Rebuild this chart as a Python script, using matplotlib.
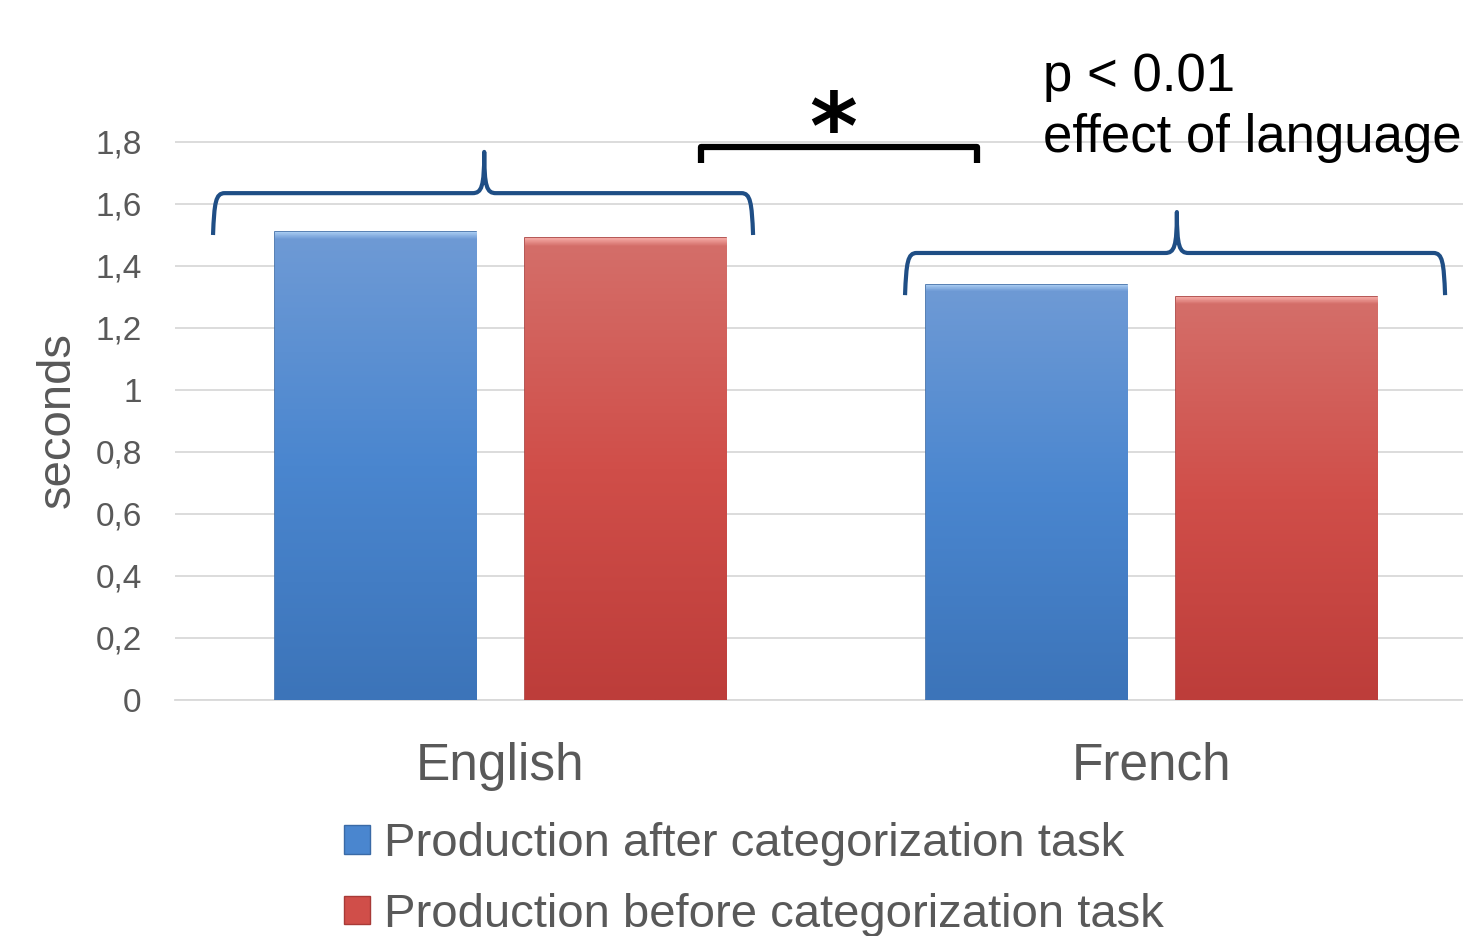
import numpy as np
import matplotlib
matplotlib.use('Agg')
import matplotlib.pyplot as plt
from matplotlib.path import Path
from matplotlib.patches import PathPatch, Patch
from matplotlib.colors import LinearSegmentedColormap

plt.rcParams['font.family'] = ['Liberation Sans', 'DejaVu Sans']

# data
languages = ['English', 'French']
series_names = ['Production after categorization task', 'Production before categorization task']
after_task = [1.51, 1.34]
before_task = [1.49, 1.30]
y_ticks = [0, 0.2, 0.4, 0.6, 0.8, 1.0, 1.2, 1.4, 1.6, 1.8]
y_tick_labels = ['0', '0,2', '0,4', '0,6', '0,8', '1', '1,2', '1,4', '1,6', '1,8']

grey = '#595959'
blue_cols = ['#A9CCF2', '#6E9AD5', '#4A86CF', '#3C74B9']
red_cols = ['#F2A5A0', '#D46E69', '#D04E49', '#BD3D3A']
blue_edge = '#3A6AA6'
red_edge = '#A83A37'

fig = plt.figure(figsize=(14.63, 9.36), dpi=100)
W, H = 1463, 936
x_left, x_right = 175, 1477
y_zero, y_top = 700, 80
ax = fig.add_axes([x_left / W, 1 - y_zero / H, (x_right - x_left) / W, (y_zero - y_top) / H])

x = np.arange(len(languages))
width = 0.31
off = 0.192
b1 = ax.bar(x - off, after_task, width, color=blue_cols[1], edgecolor=blue_edge, linewidth=1.2, zorder=3)
b2 = ax.bar(x + off, before_task, width, color=red_cols[1], edgecolor=red_edge, linewidth=1.2, zorder=3)


def shade(bars, cols):
    cmap = LinearSegmentedColormap.from_list('g', [(0, cols[3]), (0.5, cols[2]), (0.985, cols[1]), (1.0, cols[0])])
    grad = np.linspace(0, 1, 256).reshape(-1, 1)
    for b in bars:
        bx, by, bw, bh = b.get_x(), b.get_y(), b.get_width(), b.get_height()
        im = ax.imshow(grad, cmap=cmap, extent=[bx, bx + bw, by, by + bh], origin='lower',
                       aspect='auto', zorder=3.5)
        im.set_clip_path(b)


shade(b1, blue_cols)
shade(b2, red_cols)

ax.set_xlim(-0.5, 1.5)
ax.set_ylim(0, 2.0)
ax.set_yticks(y_ticks)
ax.set_yticklabels(y_tick_labels)
ax.set_xticks(x)
ax.set_xticklabels(languages)
ax.tick_params(axis='y', length=0, pad=24, labelsize=24, labelcolor=grey)
ax.tick_params(axis='x', length=0, pad=30, labelsize=37, labelcolor=grey)
ax.grid(axis='y', color='#D9D9D9', linewidth=1.3, zorder=0)
ax.set_axisbelow(True)
for s in ['top', 'right', 'left']:
    ax.spines[s].set_visible(False)
ax.spines['bottom'].set_color('#D9D9D9')
ax.spines['bottom'].set_linewidth(1.3)

fig.text(58 / W, 1 - 420 / H, 'seconds', rotation=90, ha='center', va='center', fontsize=34, color=grey)


def brace(x0, x1, xc, yh, yend, ypeak, color, lw):
    rx = 0.018
    ry = 0.03
    verts = [(x0, yend),
             (x0 + 0.002, yh - ry), (x0 + 0.004, yh), (x0 + rx, yh),
             (xc - rx, yh),
             (xc - 0.004, yh), (xc, yh + 0.02), (xc, ypeak),
             (xc, yh + 0.02), (xc + 0.004, yh), (xc + rx, yh),
             (x1 - rx, yh),
             (x1 - 0.004, yh), (x1 - 0.002, yh - ry), (x1, yend)]
    codes = [Path.MOVETO,
             Path.CURVE4, Path.CURVE4, Path.CURVE4,
             Path.LINETO,
             Path.CURVE4, Path.CURVE4, Path.CURVE4,
             Path.CURVE4, Path.CURVE4, Path.CURVE4,
             Path.LINETO,
             Path.CURVE4, Path.CURVE4, Path.CURVE4]
    ax.add_patch(PathPatch(Path(verts, codes), facecolor='none', edgecolor=color, lw=lw,
                           clip_on=False, zorder=5, capstyle='butt', joinstyle='round'))


brace_col = '#1F4E85'
brace(-0.4416, 0.388, -0.025, 1.635, 1.50, 1.768, brace_col, 3)
brace(0.6214, 1.451, 1.039, 1.442, 1.306, 1.574, brace_col, 3)

# significance bracket
bk = Path([(0.308, 1.732), (0.308, 1.784), (0.732, 1.784), (0.732, 1.732)],
          [Path.MOVETO, Path.LINETO, Path.LINETO, Path.LINETO])
ax.add_patch(PathPatch(bk, facecolor='none', edgecolor='black', lw=4.5, clip_on=False,
                       zorder=5, joinstyle='round', capstyle='butt'))
ax.text(0.511, 1.83, '*', ha='center', va='center', fontsize=66, fontweight='bold', color='black',
        family='DejaVu Sans', clip_on=False)

fig.text(1043 / W, 1 - 52 / H, 'p < 0.01\neffect of language', ha='left', va='top',
         fontsize=38, color='black', linespacing=1.27)

handles = [Patch(facecolor=blue_cols[2], edgecolor=blue_edge),
           Patch(facecolor=red_cols[2], edgecolor=red_edge)]
fig.legend(handles, series_names, loc='upper left', bbox_to_anchor=(344 / W, 1 - 822 / H),
           frameon=False, fontsize=34, labelcolor=grey, handlelength=0.55, handleheight=0.55,
           handletextpad=0.3, labelspacing=0.57, borderpad=0, borderaxespad=0)

fig.savefig('out.png', dpi=100)
